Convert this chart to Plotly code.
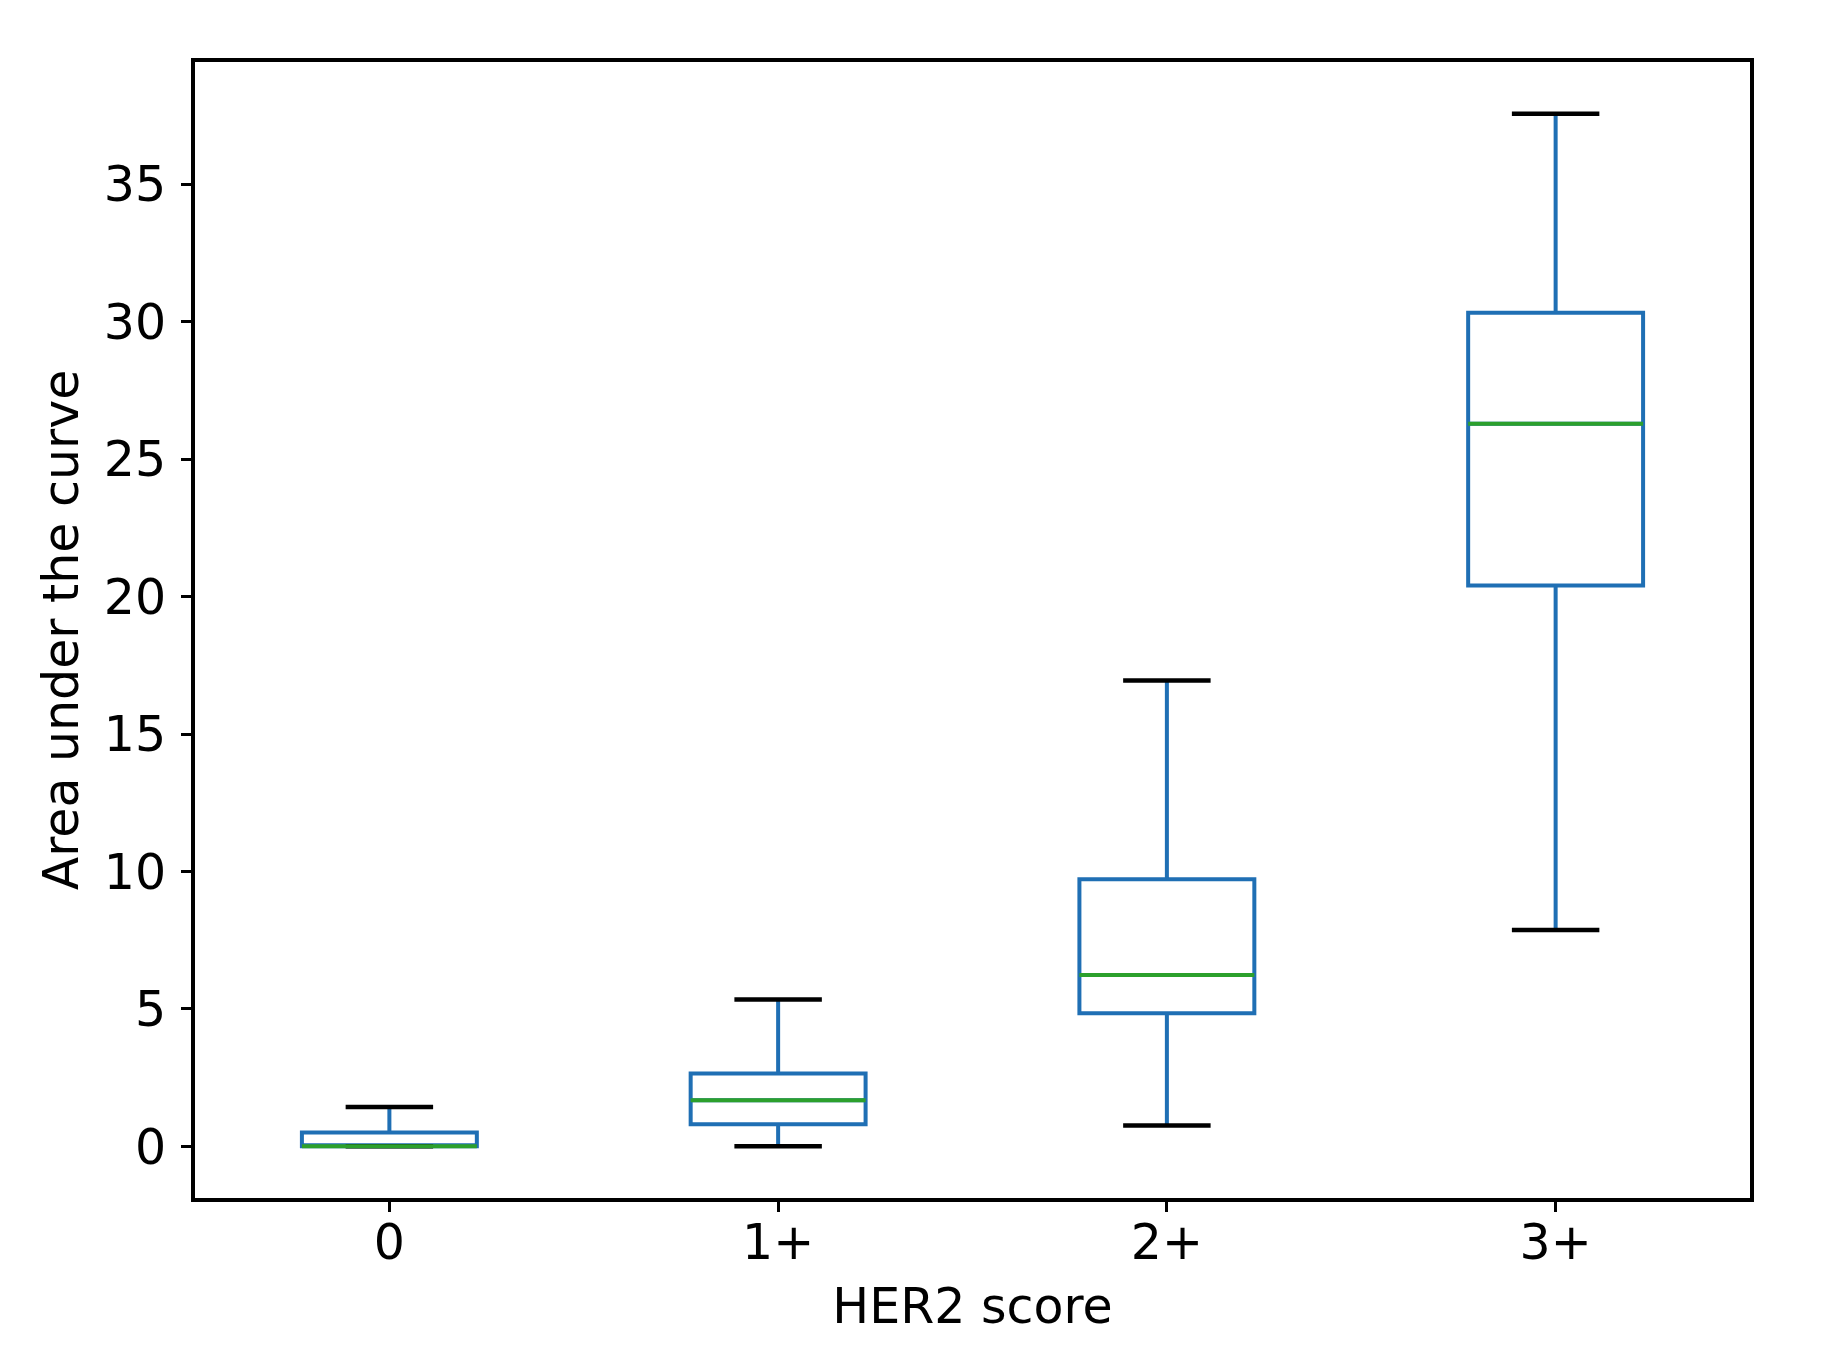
import plotly.graph_objects as go

# ---- data ----
categories = ["0", "1+", "2+", "3+"]
lower_whisker = [0.0, 0.0, 0.76, 7.87]
q1_values = [0.0, 0.80, 4.84, 20.40]
median_values = [0.0, 1.68, 6.23, 26.29]
q3_values = [0.50, 2.65, 9.72, 30.33]
upper_whisker = [1.43, 5.34, 16.95, 37.57]
y_ticks = [0, 5, 10, 15, 20, 25, 30, 35]

positions = list(range(len(categories)))
box_width = 0.45
cap_width = box_width / 2

BLUE = "#1f6fb4"
GREEN = "#2ca02c"
FONT = "DejaVu Sans"
FS = 49

fig = go.Figure()

fig.add_trace(go.Box(
    x=positions,
    q1=q1_values,
    median=median_values,
    q3=q3_values,
    lowerfence=lower_whisker,
    upperfence=upper_whisker,
    width=box_width,
    whiskerwidth=0,
    boxpoints=False,
    line=dict(color=BLUE, width=4),
    fillcolor="rgba(0,0,0,0)",
    showlegend=False,
    hoverinfo="skip",
))

# caps (black)
cap_x, cap_y = [], []
for p, lo, hi in zip(positions, lower_whisker, upper_whisker):
    cap_x += [p - cap_width / 2, p + cap_width / 2, None, p - cap_width / 2, p + cap_width / 2, None]
    cap_y += [lo, lo, None, hi, hi, None]
fig.add_trace(go.Scatter(x=cap_x, y=cap_y, mode="lines",
                         line=dict(color="black", width=4.5),
                         showlegend=False, hoverinfo="skip"))

# medians (green)
med_x, med_y = [], []
for p, m in zip(positions, median_values):
    med_x += [p - box_width / 2, p + box_width / 2, None]
    med_y += [m, m, None]
fig.add_trace(go.Scatter(x=med_x, y=med_y, mode="lines",
                         line=dict(color=GREEN, width=4),
                         showlegend=False, hoverinfo="skip"))

ymax = max(upper_whisker)
ymin = min(lower_whisker)
pad = (ymax - ymin) * 0.05

fig.update_layout(
    width=1822, height=1361,
    margin=dict(l=187, r=80, t=54, b=171),
    paper_bgcolor="white", plot_bgcolor="white",
    font=dict(family=FONT, size=FS, color="black"),
)
fig.update_xaxes(
    range=[-0.5, len(categories) - 0.5],
    tickmode="array", tickvals=positions, ticktext=categories,
    showline=True, mirror=True, linecolor="black", linewidth=4,
    ticks="outside", ticklen=10, tickwidth=3, tickcolor="black",
    showgrid=False, zeroline=False,
    tickfont=dict(family=FONT, size=FS),
    ticklabelstandoff=-12,
    title=dict(text="HER2 score", font=dict(family=FONT, size=FS), standoff=20),
)
fig.update_yaxes(
    range=[ymin - pad, ymax + pad],
    tickmode="array", tickvals=y_ticks,
    showline=True, mirror=True, linecolor="black", linewidth=4,
    ticks="outside", ticklen=10, tickwidth=3, tickcolor="black",
    showgrid=False, zeroline=False,
    tickfont=dict(family=FONT, size=FS),
    ticklabelstandoff=5,
    title=dict(text="Area under the curve", font=dict(family=FONT, size=FS), standoff=11),
)

fig.write_html("out.html")
